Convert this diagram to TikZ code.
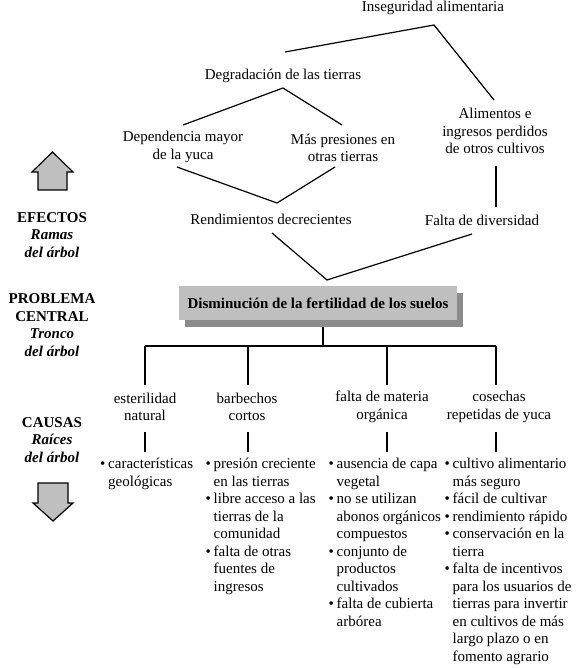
\documentclass[tikz,border=0pt]{standalone}
\usepackage{fontspec}
\setmainfont{Liberation Serif}
\usetikzlibrary{calc}
\usetikzlibrary{shadows}

\tikzset{
  txt/.style={align=center, inner sep=0pt, font=\fontsize{15}{17.5}\selectfont},
  side/.style={align=center, inner sep=0pt, font=\fontsize{15}{17.5}\selectfont\bfseries},
  list/.style={align=left, anchor=north west, inner sep=0pt, font=\fontsize{15}{17.5}\selectfont},
  link/.style={line width=1.2pt},
  bigarrow/.style={fill=black!25, draw=black, line width=1.2pt, line join=miter},
}
\newcommand{\bul}{\rule{0pt}{12pt}\makebox[8pt][l]{\textbullet}}
\newcommand{\ind}{\hspace*{8pt}}

\begin{document}
\begin{tikzpicture}[x=1pt,y=-1pt]
\useasboundingbox (0,0) rectangle (580,668);

%---------------------------------------
% Side labels and arrows
%---------------------------------------
\node[side] (efe) at (52,235) {EFECTOS\\\textit{Ramas}\\\textit{del árbol}};
\node[side] (pro) at (52,325) {PROBLEMA\\CENTRAL\\\textit{Tronco}\\\textit{del árbol}};
\node[side] (cau) at (52,440) {CAUSAS\\\textit{Raíces}\\\textit{del árbol}};

\draw[bigarrow] (38,190) -- (38,172) -- (32,172) -- (52.5,152) -- (73,172)
  -- (67,172) -- (67,190) -- cycle;
\draw[bigarrow] (38,483) -- (68,483) -- (68,503) -- (73,503) -- (53,521)
  -- (33,503) -- (38,503) -- cycle;

%---------------------------------------
% Effects (branches)
%---------------------------------------
\node[txt] (ins) at (433,8) {Inseguridad alimentaria};
\node[txt] (deg) at (283,76) {Degradación de las tierras};
\node[txt] (dep) at (183,147) {Dependencia mayor\\de la yuca};
\node[txt] (mas) at (343,148) {Más presiones en\\otras tierras};
\node[txt] (ali) at (495,131) {Alimentos e\\ingresos perdidos\\de otros cultivos};
\node[txt] (ren) at (271,219) {Rendimientos decrecientes};
\node[txt] (fal) at (482,220) {Falta de diversidad};

\coordinate (ins-l) at (285,52);
\coordinate (ins-j) at (434,25);
\coordinate (ins-r) at (494,100);
\coordinate (deg-l) at (183,125);
\coordinate (deg-j) at (283,88);
\coordinate (deg-r) at (342,125);
\coordinate (ren-l) at (177,167);
\coordinate (ren-j) at (277,203);
\coordinate (ren-r) at (335,167);
\coordinate (ali-b) at (496,166);
\coordinate (fal-t) at (496,207);
\coordinate (box-l) at (272,233);
\coordinate (box-j) at (327,280);
\coordinate (box-r) at (472,234);

\draw[link] (ins-l) -- (ins-j) -- (ins-r);
\draw[link] (deg-l) -- (deg-j) -- (deg-r);
\draw[link] (ren-l) -- (ren-j) -- (ren-r);
\draw[link] (ali-b) -- (fal-t);
\draw[link] (box-l) -- (box-j) -- (box-r);

%---------------------------------------
% Central problem (trunk)
%---------------------------------------
\node[txt, font=\fontsize{15}{17.5}\selectfont\bfseries, fill=black!25,
      minimum width=278pt, minimum height=34pt,
      drop shadow={shadow xshift=6pt, shadow yshift=-7pt, fill=black!45, opacity=1}]
  (box) at (318,303) {Disminución de la fertilidad de los suelos};

\coordinate (trunk-t) at (323,327);
\coordinate (trunk-b) at (323,346);
\draw[link] (trunk-t) -- (trunk-b);
\draw[link] (145,346) coordinate (root-w) -- (496,346) coordinate (root-e);

%---------------------------------------
% Causes (roots)
%---------------------------------------
\foreach \cx/\lx/\nm/\lbl in {145/145/c1/{esterilidad\\natural},
                               248/247/c2/{barbechos\\cortos},
                               387/382/c3/{falta de materia\\orgánica},
                               496/499/c4/{cosechas\\repetidas de yuca}}{
  \coordinate (\nm-t) at (\cx,346);
  \coordinate (\nm-b) at (\cx,385);
  \draw[link] (\nm-t) -- (\nm-b);
  \node[txt] (\nm) at (\lx,407) {\lbl};
  \coordinate (\nm-u) at (\cx,432);
  \coordinate (\nm-d) at (\cx,452);
  \draw[link] (\nm-u) -- (\nm-d);
}

\node[list] (l1) at (100,456.5) {\bul características\\\ind geológicas};
\node[list] (l2) at (205.5,456.5) {\bul presión creciente\\\ind en las tierras\\
  \bul libre acceso a las\\\ind tierras de la\\\ind comunidad\\
  \bul falta de otras\\\ind fuentes de\\\ind ingresos};
\node[list] (l3) at (328.5,456.5) {\bul ausencia de capa\\\ind vegetal\\
  \bul no se utilizan\\\ind abonos orgánicos\\\ind compuestos\\
  \bul conjunto de\\\ind productos\\\ind cultivados\\
  \bul falta de cubierta\\\ind arbórea};
\node[list] (l4) at (444.5,456.5) {\bul cultivo alimentario\\\ind más seguro\\
  \bul fácil de cultivar\\\bul rendimiento rápido\\
  \bul conservación en la\\\ind tierra\\
  \bul falta de incentivos\\\ind para los usuarios de\\\ind tierras para invertir\\
  \ind en cultivos de más\\\ind largo plazo o en\\\ind fomento agrario};

\end{tikzpicture}
\end{document}
